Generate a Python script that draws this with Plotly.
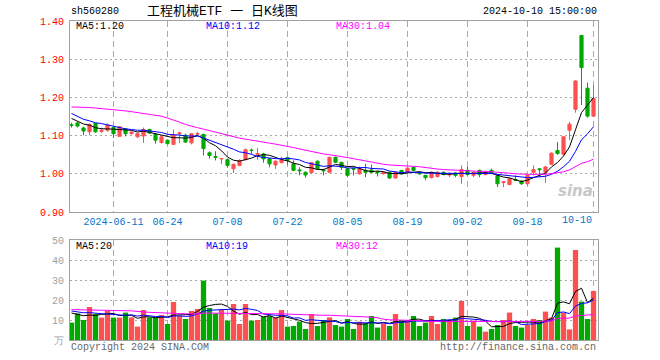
import plotly.graph_objects as go
import pandas as pd

dates = (
    ["2024-05-30", "2024-05-31"]
    + ["2024-06-%02d" % d for d in [3, 4, 5, 6, 7, 11, 12, 13, 14, 17, 18, 19, 20, 21, 24, 25, 26, 27, 28]]
    + ["2024-07-%02d" % d for d in [1, 2, 3, 4, 5, 8, 9, 10, 11, 12, 15, 16, 17, 18, 19, 22, 23, 24, 25, 26, 29, 30, 31]]
    + ["2024-08-%02d" % d for d in [1, 2, 5, 6, 7, 8, 9, 12, 13, 14, 15, 16, 19, 20, 21, 22, 23, 26, 27, 28, 29, 30]]
    + ["2024-09-%02d" % d for d in [2, 3, 4, 5, 6, 9, 10, 11, 12, 13, 18, 19, 20, 23, 24, 25, 26, 27, 30]]
    + ["2024-10-%02d" % d for d in [8, 9, 10]]
)

opens = [1.128, 1.133, 1.120, 1.110, 1.132, 1.111, 1.114, 1.121, 1.098, 1.118,
         1.105, 1.097, 1.099, 1.116, 1.103, 1.082, 1.088, 1.077, 1.105, 1.101,
         1.081, 1.104, 1.103, 1.055, 1.045, 1.039, 1.037, 1.013, 1.022, 1.037,
         1.062, 1.051, 1.052, 1.039, 1.023, 1.029, 1.042, 1.026, 1.010, 1.004,
         1.003, 1.033, 1.010, 1.004, 1.043, 1.030, 1.013, 1.014, 1.000, 1.009,
         1.010, 1.005, 1.000, 1.004, 0.989, 1.009, 1.004, 1.017, 1.004, 0.996,
         0.990, 0.993, 1.004, 0.997, 1.002, 0.993, 1.009, 0.996, 1.009, 0.998,
         1.009, 0.995, 0.977, 0.972, 0.985, 0.981, 0.974, 1.004, 1.013, 1.004,
         1.025, 1.061, 1.051, 1.114, 1.169, 1.362, 1.224, 1.151]
closes = [1.127, 1.125, 1.112, 1.129, 1.110, 1.114, 1.127, 1.105, 1.123, 1.105,
          1.109, 1.105, 1.116, 1.107, 1.088, 1.097, 1.079, 1.101, 1.107, 1.083,
          1.105, 1.105, 1.066, 1.048, 1.043, 1.040, 1.022, 1.025, 1.035, 1.063,
          1.061, 1.053, 1.039, 1.026, 1.033, 1.036, 1.035, 1.009, 1.008, 0.997,
          1.029, 1.013, 1.008, 1.043, 1.030, 1.017, 0.996, 1.012, 1.013, 1.004,
          1.004, 1.003, 1.004, 0.989, 1.004, 1.000, 1.015, 1.009, 1.000, 0.990,
          1.004, 1.004, 0.998, 0.999, 0.996, 1.011, 0.998, 1.004, 0.998, 1.004,
          1.002, 0.974, 0.979, 0.987, 0.983, 0.974, 0.996, 1.011, 1.011, 1.018,
          1.054, 1.053, 1.097, 1.130, 1.243, 1.278, 1.151, 1.197]
highs = [1.133, 1.136, 1.123, 1.132, 1.133, 1.121, 1.132, 1.123, 1.125, 1.120,
         1.112, 1.108, 1.121, 1.118, 1.107, 1.098, 1.090, 1.116, 1.110, 1.105,
         1.107, 1.110, 1.105, 1.059, 1.059, 1.041, 1.040, 1.026, 1.038, 1.066,
         1.066, 1.068, 1.055, 1.042, 1.035, 1.045, 1.043, 1.035, 1.017, 1.006,
         1.030, 1.035, 1.013, 1.045, 1.045, 1.031, 1.015, 1.016, 1.019, 1.026,
         1.024, 1.007, 1.006, 1.006, 1.007, 1.010, 1.017, 1.019, 1.006, 0.997,
         1.006, 1.006, 1.006, 1.004, 1.004, 1.022, 1.018, 1.007, 1.011, 1.007,
         1.013, 0.997, 0.981, 0.990, 0.996, 0.983, 0.998, 1.022, 1.015, 1.020,
         1.056, 1.083, 1.098, 1.136, 1.245, 1.364, 1.239, 1.232]
lows = [1.121, 1.121, 1.101, 1.101, 1.107, 1.107, 1.110, 1.094, 1.097, 1.098,
        1.103, 1.094, 1.081, 1.104, 1.079, 1.079, 1.077, 1.076, 1.080, 1.081,
        1.077, 1.098, 1.048, 1.040, 1.035, 1.025, 1.016, 1.002, 1.020, 1.035,
        1.052, 1.037, 1.029, 1.017, 1.013, 1.028, 1.024, 1.007, 0.996, 0.990,
        1.000, 1.010, 0.996, 1.002, 1.028, 1.010, 0.991, 0.996, 0.998, 0.991,
        1.003, 0.993, 0.998, 0.987, 0.987, 0.998, 1.003, 1.007, 0.997, 0.983,
        0.988, 0.990, 0.996, 0.991, 0.991, 0.974, 0.996, 0.991, 0.991, 0.996,
        1.000, 0.965, 0.965, 0.970, 0.981, 0.971, 0.969, 0.996, 0.991, 0.976,
        1.023, 1.050, 1.049, 1.088, 1.160, 1.180, 1.147, 1.149]
volumes = [8.7, 13.3, 10.0, 16.5, 13.0, 11.2, 14.5, 11.2, 11.2, 13.7,
           11.3, 6.7, 15.0, 11.3, 11.3, 12.5, 8.0, 19.0, 12.0, 10.5,
           14.5, 15.5, 29.7, 16.0, 13.3, 15.3, 9.7, 18.0, 8.0, 18.0,
           9.7, 10.0, 11.7, 12.0, 11.3, 15.0, 6.7, 7.0, 9.2, 5.5,
           13.0, 7.0, 10.0, 11.3, 7.5, 6.7, 10.5, 5.5, 9.2, 8.3,
           12.0, 6.2, 8.3, 7.0, 13.0, 10.0, 10.0, 12.0, 7.0, 8.7,
           12.0, 8.0, 10.5, 10.0, 11.2, 19.5, 7.0, 9.7, 6.7, 4.2,
           5.5, 7.5, 10.0, 13.7, 7.0, 6.2, 7.5, 10.5, 10.0, 14.2,
           11.2, 46.2, 13.7, 5.3, 45.0, 19.2, 10.5, 24.5]

# closes / volumes of the 29 sessions before the visible window (only feed the moving averages)
prior_closes = [1.13, 1.14, 1.14, 1.15, 1.15, 1.16, 1.16, 1.16, 1.17, 1.17,
                1.17, 1.16, 1.17, 1.18, 1.19, 1.22, 1.25, 1.28, 1.27, 1.25,
                1.21, 1.18, 1.17, 1.16, 1.135, 1.16, 1.15, 1.145, 1.143]
prior_volumes = [14, 16, 13, 15, 17, 12, 14, 16, 15, 13,
                 18, 20, 17, 16, 15, 19, 14, 16, 15, 16,
                 17, 15, 16, 14, 15.5, 16, 14, 15, 13.8]

xtick_vals = ["2024-06-11", "2024-06-24", "2024-07-08", "2024-07-22", "2024-08-05",
              "2024-08-19", "2024-09-02", "2024-09-18", "2024-10-10"]
xtick_text = ["2024-06-11", "06-24", "07-08", "07-22", "08-05", "08-19", "09-02", "09-18", ""]
price_ticks = [0.9, 1.0, 1.1, 1.2, 1.3, 1.4]
vol_ticks = [0, 10, 20, 30, 40, 50]
vol_tick_text = ["万", "10", "20", "30", "40", "50"]

RED = "#FF5050"
GREEN = "#00A800"
MONO = "Liberation Mono, DejaVu Sans Mono, monospace"
n = len(dates)

cs = pd.Series(prior_closes + closes)
vs = pd.Series(prior_volumes + volumes)
ma = {k: cs.rolling(k).mean().iloc[-n:].tolist() for k in (5, 10, 30)}
vma = {k: vs.rolling(k).mean().iloc[-n:].tolist() for k in (5, 10, 30)}
ma_colors = {5: "#000000", 10: "#0000FF", 30: "#FF00FF"}

fig = go.Figure()
fig.add_trace(go.Candlestick(
    x=dates, open=opens, high=highs, low=lows, close=closes,
    increasing=dict(line=dict(color=RED, width=1), fillcolor=RED),
    decreasing=dict(line=dict(color=GREEN, width=1), fillcolor=GREEN),
    whiskerwidth=0, xaxis="x", yaxis="y", showlegend=False, hoverinfo="skip"))
for k in (5, 10, 30):
    fig.add_trace(go.Scatter(x=dates, y=ma[k], mode="lines",
                             line=dict(color=ma_colors[k], width=1),
                             xaxis="x", yaxis="y", showlegend=False, hoverinfo="skip"))

bar_colors = [RED if c > o else GREEN for o, c in zip(opens, closes)]
fig.add_trace(go.Bar(x=dates, y=volumes, marker=dict(color=bar_colors, line=dict(width=0)),
                     xaxis="x2", yaxis="y2", showlegend=False, hoverinfo="skip"))
for k in (5, 10, 30):
    fig.add_trace(go.Scatter(x=dates, y=vma[k], mode="lines",
                             line=dict(color=ma_colors[k], width=1),
                             xaxis="x2", yaxis="y2", showlegend=False, hoverinfo="skip"))

L, R, T, B = 70, 598, 21, 340
W, H = 660, 360


def px(x):
    return (x - L) / (R - L)


def py(y):
    return (B - y) / (B - T)


price_dom = [py(212), 1.0]
vol_dom = [0.0, py(240)]
xrange_ = [-0.25, n - 0.25]

common_x = dict(type="category", range=xrange_, tickvals=xtick_vals, showgrid=True,
                gridcolor="#AAAAAA", griddash="6px,4px", gridwidth=1,
                showline=True, mirror=True, linecolor="#A0A0A0", linewidth=1,
                ticks="", zeroline=False, fixedrange=True)

fig.update_layout(
    width=W, height=H,
    margin=dict(l=L, r=W - R, t=T, b=H - B),
    paper_bgcolor="white", plot_bgcolor="white",
    bargap=0.12, boxgap=0.25,
    xaxis=dict(common_x, anchor="y", domain=[0, 1], ticktext=xtick_text,
               tickfont=dict(family=MONO, size=10, color="#0077CC"),
               rangeslider=dict(visible=False)),
    xaxis2=dict(common_x, anchor="y2", domain=[0, 1], showticklabels=False),
    yaxis=dict(domain=price_dom, range=[0.9, 1.4], tickvals=price_ticks,
               ticktext=["%.2f" % v for v in price_ticks],
               tickfont=dict(family=MONO, size=10, color="#FF0000"),
               showgrid=True, gridcolor="#AAAAAA", griddash="2px,3px",
               showline=True, mirror=True, linecolor="#A0A0A0", linewidth=1,
               ticks="", ticklabelstandoff=3, zeroline=False, fixedrange=True),
    yaxis2=dict(domain=vol_dom, range=[0, 50], tickvals=vol_ticks, ticktext=vol_tick_text,
                tickfont=dict(family=MONO, size=10, color="#A0A0A0"),
                showgrid=True, gridcolor="#AAAAAA", griddash="2px,3px",
                showline=True, mirror=True, linecolor="#A0A0A0", linewidth=1,
                ticks="", ticklabelstandoff=3, zeroline=False, fixedrange=True),
)


def note(text, x, y, color="#000000", size=10, family=MONO, anchor="left"):
    fig.add_annotation(text=text, x=px(x), y=py(y), xref="paper", yref="paper",
                       xanchor=anchor, yanchor="middle", showarrow=False,
                       font=dict(family=family, size=size, color=color))


note("sh560280", 69, 12)
note("工程机械ETF 一 日K线图", 222, 12, size=13,
     family="Liberation Mono, Noto Sans CJK SC", anchor="center")
note("2024-10-10 15:00:00", 599, 12, anchor="right")
note("MA5:%.2f" % ma[5][-1], 74, 27)
note("MA10:%.2f" % ma[10][-1], 204, 27, color="#0000FF")
note("MA30:%.2f" % ma[30][-1], 334, 27, color="#FF00FF")
note("MA5:%d" % int(vma[5][-1]), 74, 246)
note("MA10:%d" % int(vma[10][-1]), 204, 246, color="#0000FF")
note("MA30:%d" % int(vma[30][-1]), 334, 246, color="#FF00FF")
note("Copyright 2024 SINA.COM", 69, 347, color="#666666")
note("http://finance.sina.com.cn", 598, 347, color="#666666", anchor="right")

# last x label pulled inside the frame
fig.add_annotation(text="10-10", x=dates[-1], y=py(220), xref="x", yref="paper",
                   xanchor="right", yanchor="middle", showarrow=False,
                   font=dict(family=MONO, size=10, color="#0077CC"))
# sina watermark
fig.add_annotation(text="<b><i>sina</i></b>", x=px(595), y=py(191), xref="paper", yref="paper",
                   xanchor="right", yanchor="middle", showarrow=False,
                   font=dict(family="DejaVu Sans", size=15, color="#C8C8C8"))

fig.write_html("out.html", config={"displayModeBar": False},
               post_script="document.body.style.margin='0';")
